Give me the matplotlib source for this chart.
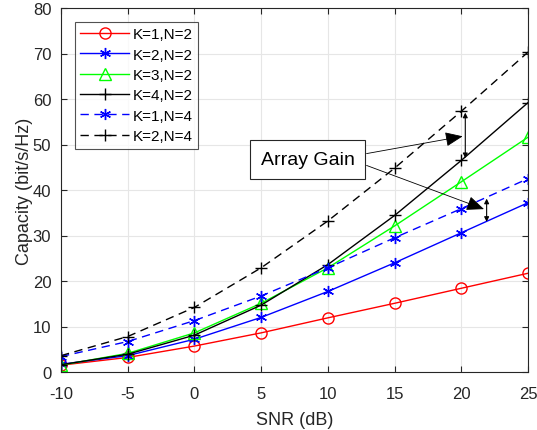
import numpy as np
import matplotlib
matplotlib.use('Agg')
import matplotlib.pyplot as plt

plt.rcParams['font.family'] = ['Liberation Sans', 'DejaVu Sans']
plt.rcParams['axes.unicode_minus'] = False

snr = [-10, -5, 0, 5, 10, 15, 20, 25]

cap_k1n2 = [1.5, 3.2, 5.7, 8.6, 11.9, 15.1, 18.4, 21.7]
cap_k2n2 = [1.7, 3.6, 7.2, 12.0, 17.7, 24.0, 30.6, 37.2]
cap_k3n2 = [1.5, 4.1, 8.6, 15.1, 22.9, 32.1, 41.8, 51.6]
cap_k4n2 = [1.6, 3.9, 8.1, 14.7, 23.6, 34.4, 46.5, 59.2]
cap_k1n4 = [3.4, 6.7, 11.3, 16.7, 22.9, 29.5, 35.9, 42.5]
cap_k2n4 = [3.6, 7.8, 14.2, 22.9, 33.2, 44.8, 57.3, 70.3]

labels = ['K=1,N=2', 'K=2,N=2', 'K=3,N=2', 'K=4,N=2', 'K=1,N=4', 'K=2,N=4']

txtc = '#262626'
star = (6, 2, 0)  # asterisk marker

fig = plt.figure(figsize=(5.37, 4.31), dpi=100)
ax = fig.add_axes([61/537, 1-373/431, (528-61)/537, (373-9)/431])

ax.plot(snr, cap_k1n2, '-o', color='r', lw=1, ms=8, mfc='none', mew=1, label=labels[0])
ax.plot(snr, cap_k2n2, '-', marker=star, color='b', lw=1, ms=8, mew=1, label=labels[1])
ax.plot(snr, cap_k3n2, '-^', color='#00ff00', lw=1, ms=8, mfc='none', mew=1, label=labels[2])
ax.plot(snr, cap_k4n2, '-+', color='k', lw=1, ms=9, mew=1, label=labels[3])
ax.plot(snr, cap_k1n4, '--', marker=star, color='b', lw=1, ms=8, mew=1, label=labels[4],
        dashes=(6, 4))
ax.plot(snr, cap_k2n4, '--+', color='k', lw=1, ms=9, mew=1, label=labels[5], dashes=(6, 4))

ax.set_xlim(-10, 25)
ax.set_ylim(0, 80)
ax.set_xticks(np.arange(-10, 26, 5))
ax.set_yticks(np.arange(0, 81, 10))
ax.grid(True, color='#e6e6e6', lw=0.8)
ax.set_axisbelow(True)
ax.tick_params(direction='in', length=4, width=0.8, colors=txtc, labelsize=12,
               top=True, right=True)
ax.tick_params(axis='x', pad=10)
ax.tick_params(axis='y', pad=7)
for s in ax.spines.values():
    s.set_color(txtc)
    s.set_linewidth(0.8)
ax.set_xlabel('SNR (dB)', fontsize=13, color=txtc, labelpad=7)
ax.set_ylabel('Capacity (bit/s/Hz)', fontsize=13, color=txtc, labelpad=0)

leg = ax.legend(loc='upper left', fontsize=11, frameon=True, fancybox=False,
                edgecolor=txtc, borderpad=0.35, labelspacing=0.42,
                handlelength=3.2, handletextpad=0.25, borderaxespad=0.9)
leg.get_frame().set_linewidth(0.8)

# double-headed arrows marking the gap between N=4 and N=2 curves
ax.annotate('', xy=(20.3, 57.0), xytext=(20.3, 47.0),
            arrowprops=dict(arrowstyle='<|-|>', color='k', lw=0.8,
                            mutation_scale=7, shrinkA=0, shrinkB=0))
ax.annotate('', xy=(21.9, 38.1), xytext=(21.9, 33.0),
            arrowprops=dict(arrowstyle='<|-|>', color='k', lw=0.8,
                            mutation_scale=7, shrinkA=0, shrinkB=0))

ax.text(8.5, 46.7, 'Array Gain', fontsize=14, ha='center', va='center', color='k',
        bbox=dict(boxstyle='square,pad=0.55', fc='w', ec=txtc, lw=0.8))
ax.annotate('', xy=(20.1, 51.8), xytext=(12.9, 48.0),
            arrowprops=dict(arrowstyle='-|>,head_length=0.6,head_width=0.25', color='k',
                            lw=0.6, mutation_scale=18, shrinkA=0, shrinkB=0))
ax.annotate('', xy=(21.7, 35.8), xytext=(12.9, 45.4),
            arrowprops=dict(arrowstyle='-|>,head_length=0.6,head_width=0.25', color='k',
                            lw=0.6, mutation_scale=18, shrinkA=0, shrinkB=0))

fig.savefig('out.png', dpi=100)
